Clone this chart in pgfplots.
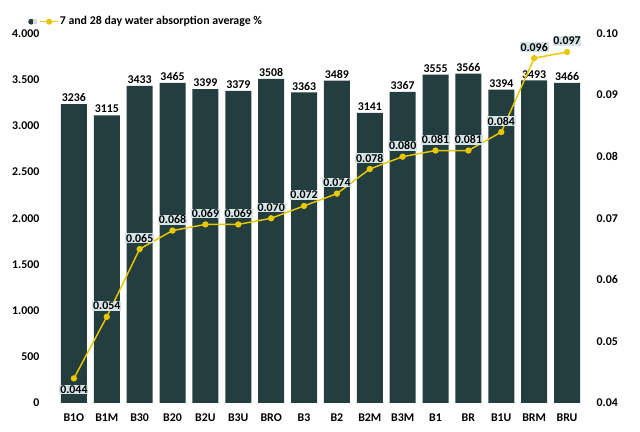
\documentclass[border=0pt]{standalone}
\usepackage{pgfplots}
\pgfplotsset{compat=1.18}
\usepackage{fontspec}
\setmainfont{Carlito}
\definecolor{barcol}{HTML}{243D3E}
\definecolor{yel}{HTML}{E6C700}
\definecolor{lblbg}{HTML}{D3E3E6}
\pgfplotstableread{
x y
0 3236
1 3115
2 3433
3 3465
4 3399
5 3379
6 3508
7 3363
8 3489
9 3141
10 3367
11 3555
12 3566
13 3394
14 3493
15 3466
}\bars
\pgfplotstableread{
x y p
0 0.044 -1
1 0.054 1
2 0.065 1
3 0.068 1
4 0.069 1
5 0.069 1
6 0.070 1
7 0.072 1
8 0.074 1
9 0.078 1
10 0.080 1
11 0.081 1
12 0.081 1
13 0.084 1
14 0.096 1
15 0.097 1
}\line
\begin{document}
\begin{tikzpicture}[font=\fontsize{8.9pt}{10pt}\selectfont\bfseries]
\path[use as bounding box] (0,0) rectangle (480pt,324pt);
\pgfplotsset{
  common/.style={
    at={(43.1pt,21.75pt)}, anchor=south west,
    scale only axis, width=394.5pt, height=277.1pt,
    xmin=-0.5, xmax=15.5,
    major tick length=0pt,
    axis line style={draw=none},
    tick label style={font=\fontsize{8.9pt}{10pt}\selectfont\bfseries},
  }
}
\begin{axis}[common,
  ymin=0, ymax=4000,
  ytick={0,500,1000,1500,2000,2500,3000,3500,4000},
  yticklabels={0,500,1.000,1.500,2.000,2.500,3.000,3.500,4.000},
  yticklabel style={xshift=-10pt},
  xtick={0,...,15},
  xticklabels={B1O,B1M,B30,B20,B2U,B3U,BRO,B3,B2,B2M,B3M,B1,BR,B1U,BRM,BRU},
  xticklabel style={yshift=-4.5pt},
  ybar, bar width=19.5pt,
  nodes near coords={\pgfmathprintnumber[fixed,precision=0,1000 sep={},assume math mode=true]{\pgfplotspointmeta}},
  every node near coord/.append style={font=\fontsize{8.9pt}{10pt}\selectfont\bfseries, text=black, inner sep=1.5pt},
]
\addplot[fill=barcol, draw=none] table[x=x,y=y] {\bars};
\end{axis}
\begin{axis}[common,
  axis x line=none,
  axis y line*=right,
  ymin=0.04, ymax=0.10,
  ytick={0.04,0.05,0.06,0.07,0.08,0.09,0.10},
  yticklabels={0.04,0.05,0.06,0.07,0.08,0.09,0.10},
  yticklabel style={xshift=6.4pt},
  legend style={draw=none, fill=none, at={(-0.056,1.032)}, anchor=west, inner sep=0pt,
     nodes={inner sep=1pt}, font=\fontsize{8.9pt}{10pt}\selectfont\bfseries},
  legend cell align=left,
]
\addplot[yel, line width=1.1pt, mark=*, mark size=1.8pt, mark options={fill=yel, draw=yel},
  visualization depends on={\thisrow{p} \as \lpos},
  nodes near coords={\pgfmathprintnumber[fixed,precision=3,zerofill,assume math mode=true]{\pgfplotspointmeta}},
  every node near coord/.append style={anchor=center, yshift=\lpos*8.2pt, fill=lblbg, text=black,
     inner sep=0.6pt, font=\fontsize{8.9pt}{10pt}\selectfont\bfseries},
  legend image code/.code={
     \fill[barcol] (0pt,0pt) circle (1.6pt);
     \fill[gray!30] (2.2pt,-1.3pt) rectangle (3.8pt,1.3pt);
     \draw[yel, line width=1pt] (7pt,0pt) -- (20pt,0pt);
     \fill[yel] (13.5pt,0pt) circle (1.7pt);
  }
] table[x=x,y=y] {\line};
\addlegendentry{7 and 28 day water absorption average \%}
\end{axis}
\end{tikzpicture}
\end{document}
